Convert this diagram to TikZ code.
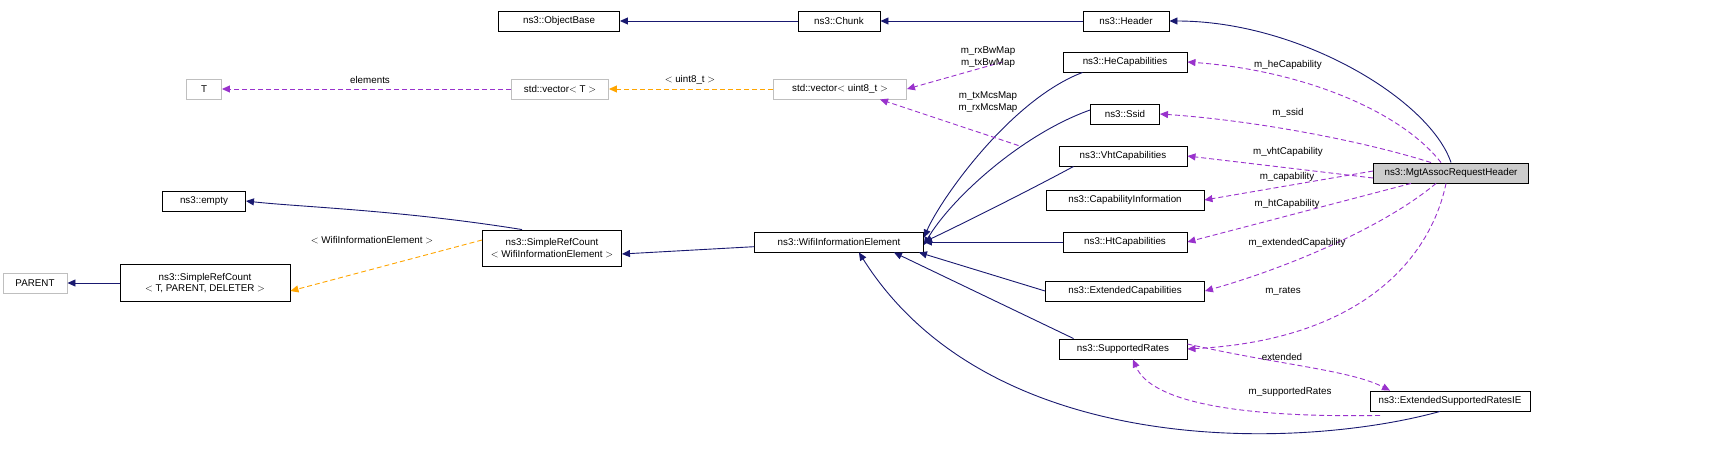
\documentclass[tikz,border=0pt]{standalone}
\usepackage{fontspec}
\setmainfont{Liberation Sans}
\usetikzlibrary{arrows.meta}
\definecolor{nv}{RGB}{25,25,112}
\definecolor{pu}{RGB}{153,50,204}
\definecolor{og}{RGB}{255,165,0}
\definecolor{gb}{RGB}{191,191,191}
\begin{document}
\begin{tikzpicture}[x=1pt,y=-1pt,
 font=\fontsize{9.8}{11.5}\selectfont,
 box/.style={draw=black,fill=white,inner sep=0pt,minimum height=20pt,align=center,line width=0.9pt},
 gbox/.style={box,draw=gb},
 inh/.style={nv,line width=0.9pt,-{Triangle[length=8pt,width=7pt]}},
 use/.style={pu,line width=0.9pt,dash pattern=on 5pt off 3pt,-{Triangle[length=8pt,width=7pt]}},
 tpl/.style={og,line width=0.9pt,dash pattern=on 5pt off 3pt,-{Triangle[length=8pt,width=7pt]}},
 lbl/.style={inner sep=0pt,align=center,text=black}]
\useasboundingbox (0,0) rectangle (1731,469);
\node[box,minimum width=121pt] (ob) at (559,21) {ns3::ObjectBase};
\node[box,minimum width=82pt] (ch) at (839,21) {ns3::Chunk};
\node[box,minimum width=86pt] (hd) at (1126,21) {ns3::Header};
\node[gbox,minimum width=35pt] (t) at (204,89) {T};
\node[gbox,minimum width=97pt] (vt) at (560,89) {std::vector$<$ T $>$};
\node[gbox,minimum width=133pt] (vu) at (840,89) {std::vector$<$ uint8\_t $>$};
\node[box,minimum width=124pt] (he) at (1125,62) {ns3::HeCapabilities};
\node[box,minimum width=69pt] (ss) at (1125,114) {ns3::Ssid};
\node[box,minimum width=128pt] (vht) at (1123,156) {ns3::VhtCapabilities};
\node[box,minimum width=155pt,fill=gb!80] (m) at (1451,173) {ns3::MgtAssocRequestHeader};
\node[box,minimum width=158pt] (ci) at (1125,200) {ns3::CapabilityInformation};
\node[box,minimum width=124pt] (ht) at (1125,242) {ns3::HtCapabilities};
\node[box,minimum width=159pt] (ec) at (1125,291) {ns3::ExtendedCapabilities};
\node[box,minimum width=128pt] (sr) at (1123,349) {ns3::SupportedRates};
\node[box,minimum width=160pt] (es) at (1450,401) {ns3::ExtendedSupportedRatesIE};
\node[box,minimum width=169pt] (wie) at (839,242) {ns3::WifiInformationElement};
\node[box,minimum width=139pt,minimum height=36pt] (srw) at (552,248) {ns3::SimpleRefCount\\$<$ WifiInformationElement $>$};
\node[box,minimum width=83pt] (em) at (204,201) {ns3::empty};
\node[box,minimum width=170pt,minimum height=37pt] (srt) at (205,283) {ns3::SimpleRefCount\\$<$ T, PARENT, DELETER $>$};
\node[gbox,minimum width=64pt] (par) at (35,283) {PARENT};
% inheritance
\draw[inh] (ch) -- (ob);
\draw[inh] (hd) -- (ch);
\draw[inh] (m.north) .. controls (1430,100) and (1300,21) .. (hd.east);
\draw[inh] ([xshift=20pt]he.south west) .. controls (1010,100) and (940,200) .. ([yshift=-6pt]wie.north east);
\draw[inh] ([yshift=4pt]ss.west) .. controls (1020,135) and (950,200) .. ([yshift=-3pt]wie.east);
\draw[inh] ([xshift=15pt]vht.south west) .. controls (1030,190) and (960,225) .. ([yshift=0pt]wie.east);
\draw[inh] (ht) -- (wie);
\draw[inh] (ec.west) -- ([xshift=-5pt]wie.south east);
\draw[inh] ([xshift=15pt]sr.north west) -- ([xshift=-30pt]wie.south east);
\draw[inh] ([xshift=-10pt]es.south) .. controls (1300,450) and (990,460) .. ([xshift=-65pt]wie.south east);
\draw[inh] (wie) -- ([yshift=-6pt]srw.east);
\draw[inh] ([xshift=-30pt]srw.north) .. controls (400,210) and (300,207) .. (em.east);
\draw[inh] (srt) -- (par);
% usage
\draw[use] ([xshift=-10pt]m.north) .. controls (1400,110) and (1300,70) .. (he.east);
\draw[use] ([xshift=-20pt]m.north) .. controls (1360,140) and (1250,120) .. (ss.east);
\draw[use] ([yshift=-5pt]m.west) -- (vht.east);
\draw[use] ([yshift=2pt]m.west) -- (ci.east);
\draw[use] ([xshift=-40pt]m.south) -- (ht.east);
\draw[use] ([xshift=-15pt]m.south) .. controls (1380,230) and (1280,270) .. (ec.east);
\draw[use] ([xshift=-5pt]m.south) .. controls (1430,260) and (1360,340) .. (sr.east);
\draw[use] ([yshift=5pt]sr.east) .. controls (1280,365) and (1350,370) .. ([xshift=-60pt]es.north);
\draw[use] ([xshift=-70pt,yshift=-4pt]es.south) .. controls (1230,418) and (1150,400) .. ([xshift=10pt]sr.south);
\draw[use] ([xshift=-60pt]he.west) -- (vu.east);
\draw[use] ([xshift=-40pt]vht.north west) -- ([xshift=40pt]vu.south);
\draw[tpl] (vu) -- (vt);
\draw[use] (vt) -- (t);
\draw[tpl] ([yshift=8pt]srw.west) -- ([yshift=-8pt]srt.east);
% labels
\node[lbl] at (988,57) {m\_rxBwMap\\m\_txBwMap};
\node[lbl] at (988,102) {m\_txMcsMap\\m\_rxMcsMap};
\node[lbl] at (690,80) {$<$ uint8\_t $>$};
\node[lbl] at (370,80) {elements};
\node[lbl] at (1288,65) {m\_heCapability};
\node[lbl] at (1288,113) {m\_ssid};
\node[lbl] at (1288,152) {m\_vhtCapability};
\node[lbl] at (1287,177) {m\_capability};
\node[lbl] at (1287,204) {m\_htCapability};
\node[lbl] at (1297,243) {m\_extendedCapability};
\node[lbl] at (1283,291) {m\_rates};
\node[lbl] at (1282,357) {extended};
\node[lbl] at (1290,392) {m\_supportedRates};
\node[lbl] at (372,240) {$<$ WifiInformationElement $>$};
\end{tikzpicture}
\end{document}
